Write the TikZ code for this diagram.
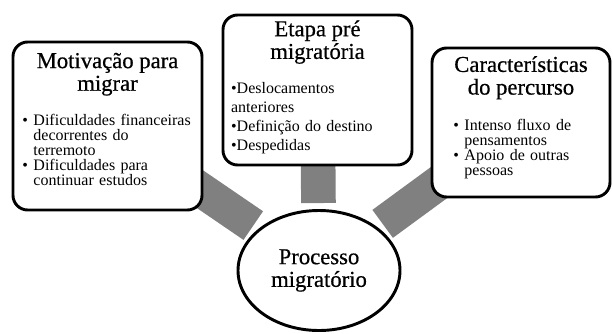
\documentclass[tikz,border=0pt]{standalone}
\usepackage{amssymb}
\usepackage{amsmath}
\usepackage{fontspec}
\setmainfont{Liberation Serif}
\usetikzlibrary{positioning,backgrounds,shapes.geometric}

\newcommand{\listbullet}{\textbullet}
\newcommand{\hangitem}[1]{\par\noindent\hangindent=1.5ex\hangafter=1\makebox[1.5ex][l]{\listbullet}#1\par}
\newcommand{\flatitem}[1]{\par\noindent\listbullet#1\par}

\tikzset{
  stagebox/.style={draw, line width=2.2pt, rounded corners=11pt, fill=white, inner sep=0pt},
  stagetitle/.style={inner sep=0pt, align=center, font=\fontsize{17}{17}\selectfont\addfontfeatures{FakeBold=0.6}},
  stagelist/.style={inner sep=0pt, anchor=north west, font=\fontsize{12}{11.2}\selectfont},
  linkbar/.style={draw=black!50, line width=26pt, shorten >=4.5pt}
}

\begin{document}
\begin{tikzpicture}[x=0.75pt,y=-0.75pt]
        \useasboundingbox (0,0) rectangle (613,333);
        % the three stages
        \node[stagebox, minimum width=141.75pt, minimum height=126pt] (motiv) at (107.5,126) {};
        \node[stagebox, minimum width=141.75pt, minimum height=112.5pt] (etapa) at (317.5,90) {};
        \node[stagebox, minimum width=133.5pt, minimum height=111.75pt] (percurso) at (521,122.5) {};
        % centre
        \node[ellipse, draw, line width=2.2pt, fill=white, minimum width=121.5pt, minimum height=90pt,
              inner sep=0pt, align=center, font=\fontsize{17}{17}\selectfont\addfontfeatures{FakeBold=0.6}] (proc) at (319,270.5) {Processo\\migratório};
        % titles
        \node[stagetitle, below=9pt of motiv.north] (motivtitle) {Motivação para\\migrar};
        \node[stagetitle, below=5pt of etapa.north] (etapatitle) {Etapa pré\\migratória};
        \node[stagetitle, below=7pt of percurso.north] (percursotitle) {Características\\do percurso};
        % lists
        \node[stagelist, text width=136pt] (motivlist) at ([xshift=8pt,yshift=-11pt]motiv.west |- motivtitle.south) {%
          \hangitem{Dificuldades financeiras\newline decorrentes do\newline terremoto}
          \hangitem{Dificuldades para\newline continuar estudos}};
        \node[stagelist, text width=132pt, font=\fontsize{12}{14.2}\selectfont] (etapalist) at ([xshift=7pt,yshift=-8pt]etapa.west |- etapatitle.south) {%
          \flatitem{Deslocamentos\newline anteriores}
          \flatitem{Definição do destino}
          \flatitem{Despedidas}};
        \node[stagelist, text width=112pt] (percursolist) at ([xshift=17pt,yshift=-12pt]percurso.west |- percursotitle.south) {%
          \hangitem{Intenso fluxo de\newline pensamentos}
          \hangitem{Apoio de outras\newline pessoas}};
        % grey links
        \begin{scope}[on background layer]
          \draw[linkbar] (motiv.center) -- (proc);
          \draw[linkbar] (etapa.center) -- (proc);
          \draw[linkbar] (percurso.center) -- (proc);
        \end{scope}
\end{tikzpicture}
\end{document}
